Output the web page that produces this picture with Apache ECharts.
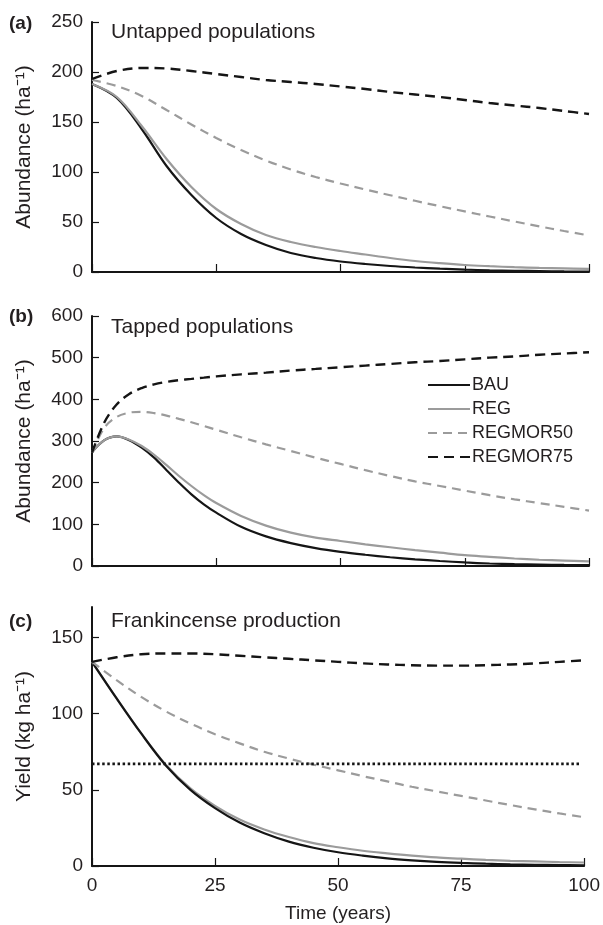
<!DOCTYPE html>
<html>
<head>
<meta charset="utf-8">
<script src="https://cdn.jsdelivr.net/npm/echarts@6/dist/echarts.min.js"></script>
<style>
  html, body { margin: 0; padding: 0; background: #fff; }
  #chart { width: 603px; height: 925px; }
</style>
</head>
<body>
<div id="chart"></div>
<script>
// panel (a) untapped populations, abundance per ha
const yearsA = [0, 5, 10, 15, 20, 25, 30, 35, 40, 45, 50, 55, 60, 65, 70, 75, 80, 85, 90, 95, 100];
const bauA = [188, 174, 143, 106, 77, 54, 38, 27, 19, 14, 10.5, 8, 6, 4.5, 3.3, 2.4, 1.7, 1.2, 0.9, 0.6, 0.4];
const regA = [188, 175, 146, 113, 85, 63, 48, 37, 30, 25, 21, 17.5, 14, 11, 8.8, 7, 5.8, 4.8, 4.1, 3.6, 3.2];
const regmor50A = [192, 186, 176, 162, 147.5, 134, 122, 111.5, 102.5, 95, 88.5, 82.5, 76.8, 71.2, 65.8, 60.6, 55.5, 50.5, 45.6, 41, 36.5];
const regmor75A = [193, 201, 204, 203.5, 201, 198, 195, 192, 190, 188, 185.5, 183, 180, 177.5, 175, 172, 169, 166.5, 164, 161, 158];

// panel (b) tapped populations
const yearsB = [0, 2.5, 5, 7.5, 10, 12.5, 15, 17.5, 20, 22.5, 25, 30, 35, 40, 45, 50, 55, 60, 65, 70, 75, 80, 85, 90, 95, 100];
const bauB = [273, 302, 311, 302, 284, 260, 230, 200, 172, 148, 128, 94, 71, 55, 43, 34, 27, 21, 16, 12, 8.5, 6, 4.5, 3.5, 2.5, 2];
const regB = [273, 302, 311, 303, 288, 267, 242, 216, 192, 170, 151, 120, 97, 80, 68, 60, 52, 45, 38, 32, 26, 22, 18, 15, 13, 11];
const regmor50B = [272, 332, 358, 368, 370, 367, 361, 353, 345, 336, 327, 309, 292, 276, 260, 245, 230, 216, 203, 192, 181, 170, 160, 151, 142, 133];
const regmor75B = [272, 345, 388, 413, 427, 436, 442, 446, 449, 452, 455, 460, 464, 469, 473, 477, 481, 485, 489, 492, 496, 500, 503, 507, 510, 513];

// panel (c) frankincense yield, kg per ha
const yearsC = [0, 5, 10, 15, 20, 25, 30, 35, 40, 45, 50, 55, 60, 65, 70, 75, 80, 85, 90, 95, 100];
const bauC = [134, 110, 87, 66, 50, 38, 28.5, 21.5, 16, 12, 9, 6.8, 5, 3.7, 2.7, 2, 1.5, 1.1, 0.8, 0.6, 0.5];
const regC = [134, 110, 87, 66.5, 51, 39.5, 30.5, 24, 19, 15, 12.3, 10, 8.3, 6.8, 5.6, 4.8, 4, 3.4, 3, 2.6, 2.3];
const regmor50C = [134, 122, 111, 101.5, 93.5, 86.5, 80.5, 75, 70.5, 66.5, 62.8, 59, 55.5, 52, 49, 46, 43, 40, 37.2, 34.5, 32];
const regmor75C = [134, 137, 139, 139.5, 139.5, 139, 138, 137, 136, 135, 134, 133, 132.3, 131.8, 131.5, 131.5, 131.8, 132.3, 133, 134, 135];
const thresholdYears = [0, 99];
const thresholdC = [67, 67];

const scenarioNames = ['BAU', 'REG', 'REGMOR50', 'REGMOR75'];

const FONT = '"Liberation Sans", Arial, Helvetica, sans-serif';
const TXT = '#231f20';
const BLACK = '#151515';
const GREY = '#9b9b9b';

const styles = {
    BAU: { color: BLACK, width: 2.2, type: 'solid' },
    REG: { color: GREY, width: 2.2, type: 'solid' },
    REGMOR50: { color: GREY, width: 2.2, type: [9, 6] },
    REGMOR75: { color: BLACK, width: 2.4, type: [10, 6] }
};

function pairs(xs, ys) {
    return xs.map((x, i) => [x, ys[i]]);
}

function line(name, idx, xs, ys) {
    const s = styles[name];
    return {
        name: name,
        type: 'line',
        xAxisIndex: idx,
        yAxisIndex: idx,
        data: pairs(xs, ys),
        smooth: 0.35,
        symbol: 'none',
        showSymbol: false,
        silent: true,
        itemStyle: { color: s.color },
        lineStyle: { color: s.color, width: s.width, type: s.type }
    };
}

const grids = [
    { left: 92, right: 14, top: 22, height: 250 },
    { left: 92, right: 14, top: 316, height: 250 },
    { left: 92, right: 14, top: 607, height: 259 }
];

function xAxis(idx, showLabels) {
    return {
        type: 'value',
        gridIndex: idx,
        min: 0,
        max: 100,
        interval: 25,
        name: showLabels ? 'Time (years)' : '',
        nameLocation: 'middle',
        nameGap: 38,
        nameTextStyle: { fontFamily: FONT, fontSize: 19, color: TXT },
        axisLine: { lineStyle: { color: BLACK, width: 2 } },
        axisTick: { show: true, inside: true, length: 8, lineStyle: { color: BLACK, width: 1.2 } },
        axisLabel: { show: showLabels, fontFamily: FONT, fontSize: 19, color: TXT, margin: 10 },
        splitLine: { show: false }
    };
}

function yAxis(idx, max, interval, name, ticks) {
    const ax = {
        type: 'value',
        gridIndex: idx,
        min: 0,
        max: max,
        interval: interval,
        name: name,
        nameLocation: 'middle',
        nameGap: 57,
        nameTextStyle: { fontFamily: FONT, fontSize: 21, color: TXT },
        axisLine: { show: true, lineStyle: { color: BLACK, width: 2 } },
        axisTick: { show: true, inside: true, length: 7, lineStyle: { color: BLACK, width: 1.2 } },
        axisLabel: { fontFamily: FONT, fontSize: 19, color: TXT, margin: 9 },
        splitLine: { show: false }
    };
    if (ticks) {
        ax.axisTick.customValues = ticks;
        ax.axisLabel.customValues = ticks;
    }
    return ax;
}

function text(str, x, y, size, bold) {
    return {
        type: 'text',
        x: x,
        y: y,
        style: {
            text: str,
            fontFamily: FONT,
            fontSize: size,
            fontWeight: bold ? 'bold' : 'normal',
            fill: TXT,
            textVerticalAlign: 'middle'
        }
    };
}

const series = [
    line('BAU', 0, yearsA, bauA),
    line('REG', 0, yearsA, regA),
    line('REGMOR50', 0, yearsA, regmor50A),
    line('REGMOR75', 0, yearsA, regmor75A),
    line('BAU', 1, yearsB, bauB),
    line('REG', 1, yearsB, regB),
    line('REGMOR50', 1, yearsB, regmor50B),
    line('REGMOR75', 1, yearsB, regmor75B),
    line('REG', 2, yearsC, regC),
    line('BAU', 2, yearsC, bauC),
    line('REGMOR50', 2, yearsC, regmor50C),
    line('REGMOR75', 2, yearsC, regmor75C),
    {
        name: 'threshold',
        type: 'line',
        xAxisIndex: 2,
        yAxisIndex: 2,
        data: pairs(thresholdYears, thresholdC),
        symbol: 'none',
        silent: true,
        lineStyle: { color: BLACK, width: 2.8, type: [2.5, 2.6] }
    }
];

const chart = echarts.init(document.getElementById('chart'), null, { renderer: 'canvas' });
chart.setOption({
    animation: false,
    backgroundColor: '#fff',
    grid: grids,
    xAxis: [xAxis(0, false), xAxis(1, false), xAxis(2, true)],
    yAxis: [
        yAxis(0, 250, 50, 'Abundance (ha\u207b\u00b9)'),
        yAxis(1, 600, 100, 'Abundance (ha\u207b\u00b9)'),
        yAxis(2, 170, 50, 'Yield (kg ha\u207b\u00b9)', [0, 50, 100, 150])
    ],
    legend: {
        data: scenarioNames,
        orient: 'vertical',
        left: 422,
        top: 371,
        itemWidth: 42,
        itemHeight: 14,
        itemGap: 6,
        selectedMode: false,
        itemStyle: { opacity: 0 },
        textStyle: { fontFamily: FONT, fontSize: 18, lineHeight: 18, color: TXT, padding: [0, 0, 0, -3] }
    },
    graphic: [
        text('(a)', 9, 24, 19, true),
        text('Untapped populations', 111, 32, 21),
        text('(b)', 9, 317, 19, true),
        text('Tapped populations', 111, 327, 21),
        text('(c)', 9, 622, 19, true),
        text('Frankincense production', 111, 621, 21)
    ],
    series: series
});
</script>
</body>
</html>
